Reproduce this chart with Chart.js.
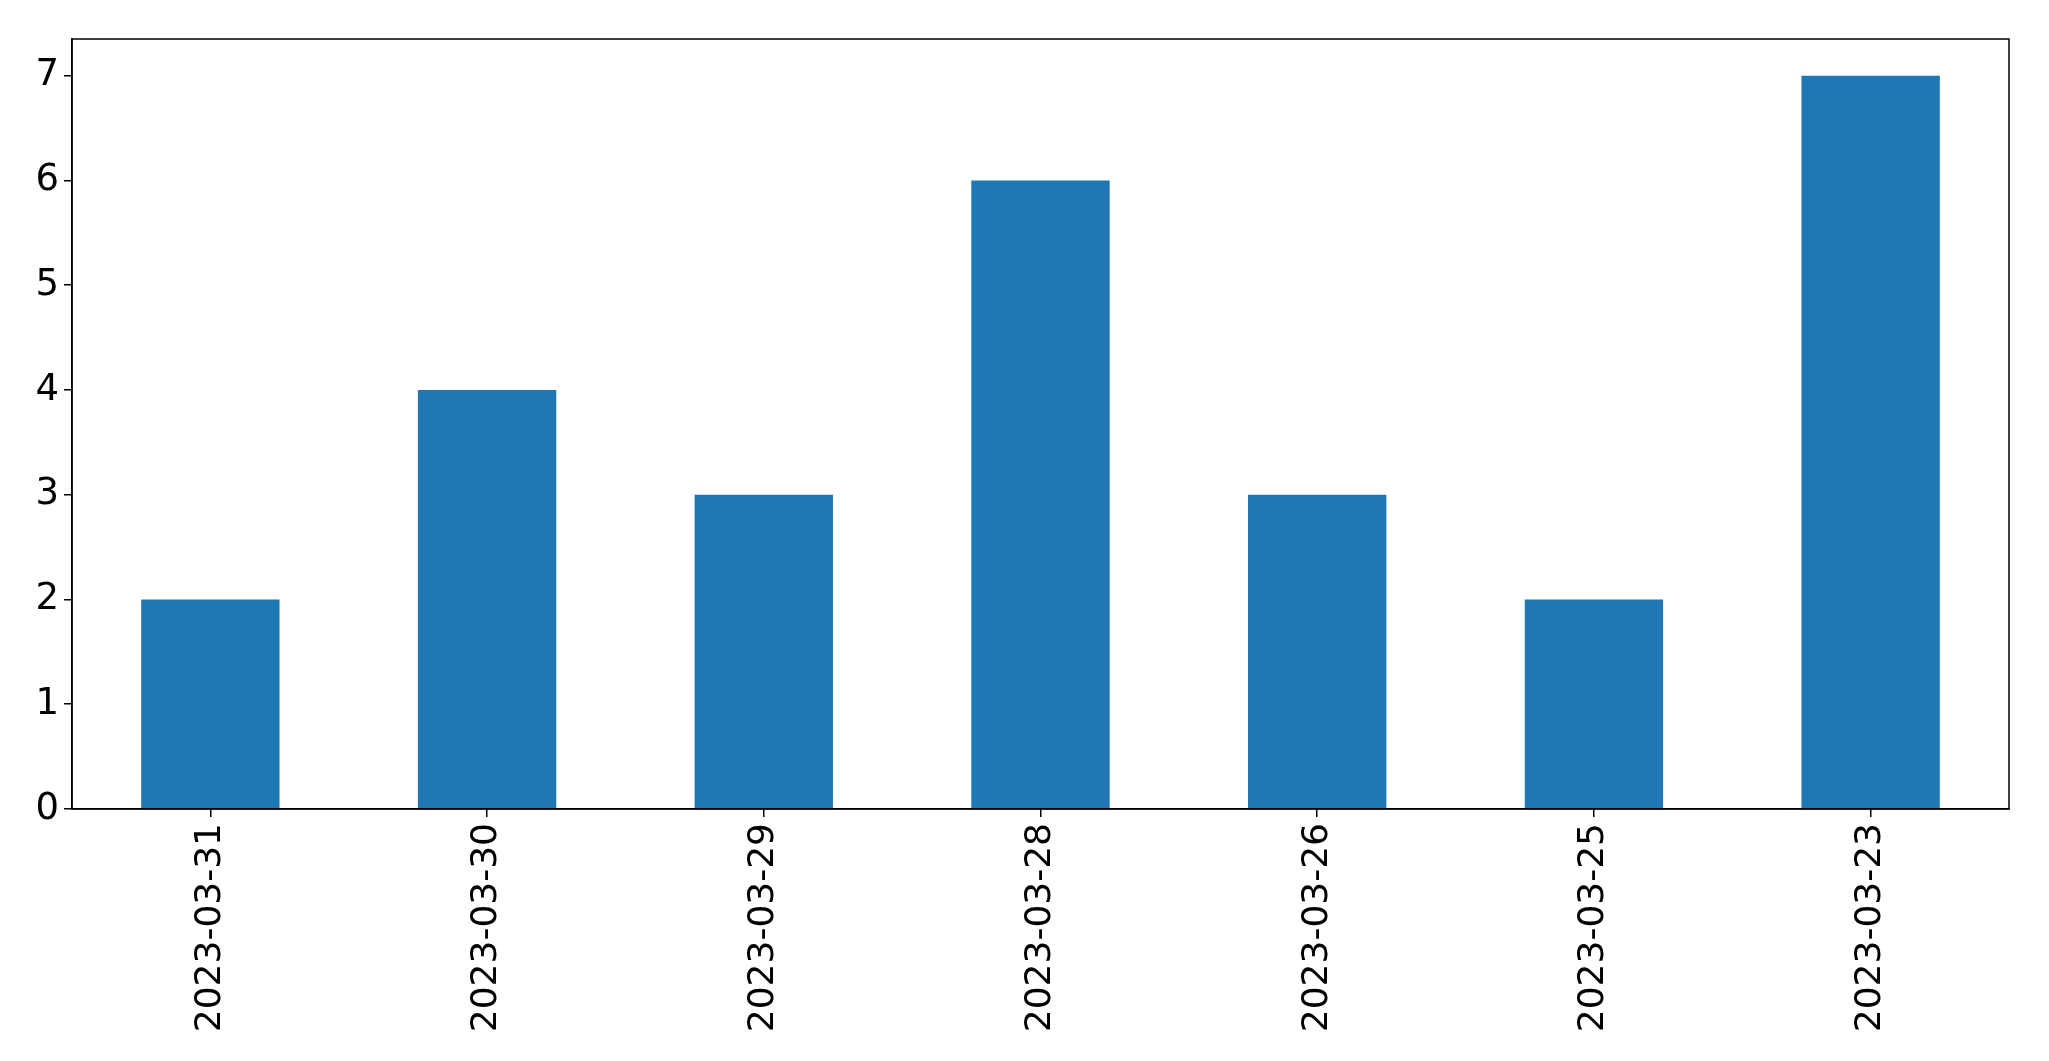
<!DOCTYPE html>
<html>
<head>
<meta charset="utf-8">
<script src="https://cdn.jsdelivr.net/npm/chart.js@4/dist/chart.umd.min.js"></script>
<style>
  html, body { margin: 0; padding: 0; background: #fff; }
  #wrap { width: 2049px; height: 1061px; }
</style>
</head>
<body>
<div id="wrap"><canvas id="chart" width="2049" height="1061"></canvas></div>
<script>
// dates on the x axis, in the order they appear
const dates = ["2023-03-31", "2023-03-30", "2023-03-29", "2023-03-28", "2023-03-26", "2023-03-25", "2023-03-23"];
const counts = [2, 4, 3, 6, 3, 2, 7];
const yTicks = [0, 1, 2, 3, 4, 5, 6, 7];

// outline the whole plot area like matplotlib's spines
const frame = {
    id: "frame",
    afterDraw(chart) {
        const a = chart.chartArea;
        const ctx = chart.ctx;
        ctx.save();
        ctx.strokeStyle = "#000";
        ctx.lineWidth = 1.5;
        ctx.strokeRect(a.left, a.top, a.right - a.left, a.bottom - a.top);
        ctx.restore();
    }
};

const ctx = document.getElementById("chart").getContext("2d");
new Chart(ctx, {
    type: "bar",
    data: {
        labels: dates,
        datasets: [{
            data: counts,
            backgroundColor: "#1f77b4",
            borderWidth: 0,
            categoryPercentage: 1.0,
            barPercentage: 0.5
        }]
    },
    options: {
        responsive: false,
        animation: false,
        layout: { padding: { top: 39, right: 40, left: 0, bottom: 0 } },
        plugins: {
            legend: { display: false },
            tooltip: { enabled: false }
        },
        scales: {
            x: {
                grid: { display: true, offset: false, drawOnChartArea: false, drawTicks: true, tickLength: 8, color: "#000", lineWidth: 1.5 },
                border: { display: true, color: "#000", width: 1.5 },
                ticks: {
                    color: "#000",
                    font: { family: "DejaVu Sans", size: 36 },
                    minRotation: 90,
                    maxRotation: 90,
                    padding: 6
                },
                afterFit(scale) { scale.height = 252; }
            },
            y: {
                min: 0,
                max: 7.35,
                grid: { display: true, drawOnChartArea: false, drawTicks: true, tickLength: 8, color: "#000", lineWidth: 1.5 },
                border: { display: true, color: "#000", width: 1.5 },
                ticks: {
                    color: "#000",
                    font: { family: "DejaVu Sans", size: 37 },
                    stepSize: 1,
                    padding: 5
                },
                afterBuildTicks(scale) {
                    scale.ticks = yTicks.map(v => ({ value: v }));
                },
                afterFit(scale) { scale.width = 72; }
            }
        }
    },
    plugins: [frame]
});
</script>
</body>
</html>
